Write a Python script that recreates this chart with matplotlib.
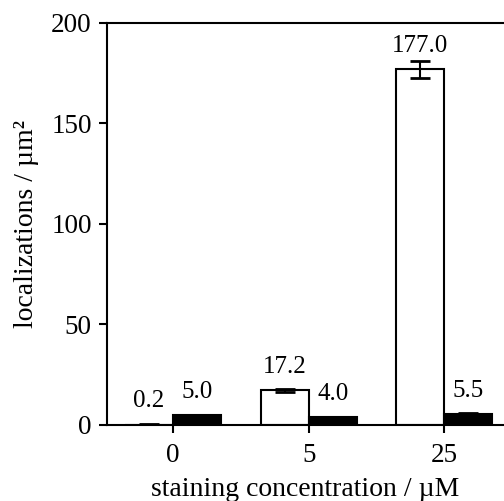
import matplotlib.pyplot as plt
import numpy as np

plt.rcParams['font.family'] = 'Liberation Serif'

conc = ['0', '5', '25']
white_vals = [0.2, 17.2, 177.0]
white_err = [0.1, 0.6, 4.2]
black_vals = [5.0, 4.0, 5.5]
black_err = [0.2, 0.2, 0.3]

x = np.arange(len(conc))
w = 0.355

fig = plt.figure(figsize=(5.04, 5.01), dpi=100)
ax = fig.add_axes([0.2123, 0.1517, 0.7877, 0.8024])

ekw = dict(ecolor='black', elinewidth=1.5, capsize=7, capthick=2)
ax.bar(x - w/2, white_vals, w, color='white', edgecolor='black', linewidth=1.5,
       yerr=white_err, error_kw=ekw)
ax.bar(x + w/2, black_vals, w, color='black', edgecolor='black', linewidth=1.5,
       yerr=black_err, error_kw=ekw)

# value labels sit a fixed distance above the bar top
for xi, v in zip(x - w/2, white_vals):
    ax.annotate(f'{v:.1f}', (xi, v), xytext=(0, 12.5), textcoords='offset points',
                ha='center', va='baseline', fontsize=18)
for xi, v in zip(x + w/2, black_vals):
    ax.annotate(f'{v:.1f}', (xi, v), xytext=(0, 12.5), textcoords='offset points',
                ha='center', va='baseline', fontsize=18)

ax.set_xlim(-0.487, 2.44)
ax.set_ylim(0, 200)
ax.set_xticks(x)
ax.set_xticklabels(conc)
ax.set_yticks([0, 50, 100, 150, 200])
ax.tick_params(direction='out', length=6, width=1.5, labelsize=19.5)
ax.tick_params(axis='x', pad=7)
ax.tick_params(axis='y', pad=5)
for s in ax.spines.values():
    s.set_linewidth(1.5)
ax.spines['right'].set_visible(False)

ax.set_xlabel('staining concentration / µM', fontsize=20, labelpad=6.5)
ax.set_ylabel('localizations / µm²', fontsize=20, labelpad=9)

plt.savefig('out.png')
